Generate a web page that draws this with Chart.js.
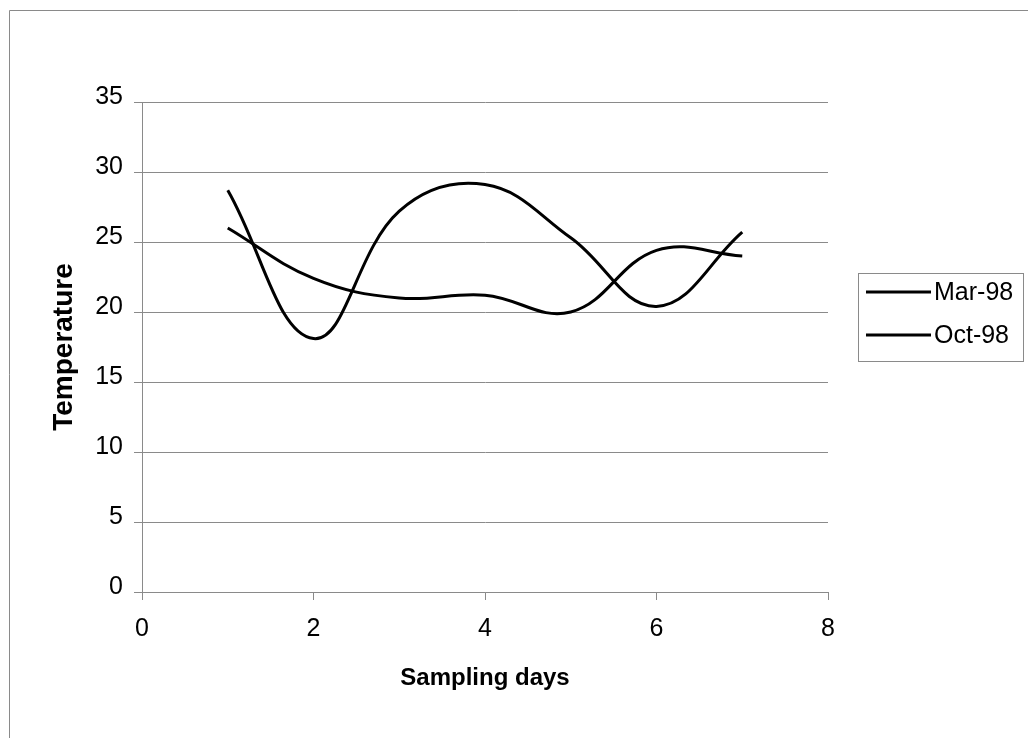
<!DOCTYPE html>
<html>
<head>
<meta charset="utf-8">
<title>Temperature</title>
<script src="https://cdn.jsdelivr.net/npm/chart.js@4"></script>
<style>
  html, body { margin: 0; padding: 0; background: #fff; }
</style>
</head>
<body>
<canvas id="grafico" width="1028" height="738"></canvas>
<script>
// Datos
const diasMuestreo = [1, 2, 3, 4, 5, 6, 7];
const temperaturaMar98 = [28.7, 18.1, 27.2, 29.1, 25.3, 20.4, 25.7];
const temperaturaOct98 = [26.0, 22.4, 21.0, 21.2, 20.0, 24.4, 24.0];
const etiquetasSeries = ['Mar-98', 'Oct-98'];
const ticksY = [0, 5, 10, 15, 20, 25, 30, 35];
const ticksX = [0, 2, 4, 6, 8];

const fuente = "'Liberation Sans', Arial, sans-serif";
const gris = '#8a8a8a';

function puntos(valores) {
    return diasMuestreo.map((d, i) => ({ x: d, y: valores[i] }));
}

// Marco exterior y leyenda con borde
const marcoYLeyenda = {
    id: 'marcoYLeyenda',
    afterDraw(chart) {
        const ctx = chart.ctx;
        ctx.save();
        ctx.strokeStyle = gris;
        ctx.lineWidth = 1;
        ctx.beginPath();
        ctx.moveTo(9.5, 738);
        ctx.lineTo(9.5, 10.5);
        ctx.lineTo(1028, 10.5);
        ctx.stroke();

        // caja de leyenda
        ctx.strokeRect(858.5, 273.5, 165, 88);
        ctx.font = '25px ' + fuente;
        ctx.textBaseline = 'middle';
        ctx.fillStyle = '#000';
        const filas = [292, 335];
        etiquetasSeries.forEach((txt, i) => {
            ctx.strokeStyle = '#000';
            ctx.lineWidth = 3;
            ctx.beginPath();
            ctx.moveTo(866, filas[i]);
            ctx.lineTo(931, filas[i]);
            ctx.stroke();
            ctx.fillText(txt, 934, filas[i] + 1);
        });
        ctx.restore();
    }
};

const ctx = document.getElementById('grafico').getContext('2d');
const grafico = new Chart(ctx, {
    type: 'line',
    data: {
        datasets: [{
            label: etiquetasSeries[0],
            data: puntos(temperaturaMar98),
            borderColor: '#000',
            borderWidth: 3,
            pointRadius: 0,
            tension: 0.4,
            fill: false
        }, {
            label: etiquetasSeries[1],
            data: puntos(temperaturaOct98),
            borderColor: '#000',
            borderWidth: 3,
            pointRadius: 0,
            tension: 0.4,
            fill: false
        }]
    },
    options: {
        responsive: false,
        animation: false,
        layout: { padding: { left: 0, top: 102, right: 200, bottom: 0 } },
        plugins: {
            legend: { display: false },
            tooltip: { enabled: false }
        },
        scales: {
            x: {
                type: 'linear',
                min: 0,
                max: 8,
                afterFit: s => { s.height = 146; },
                afterBuildTicks: s => { s.ticks = ticksX.map(v => ({ value: v })); },
                border: { color: gris, width: 1 },
                grid: { drawOnChartArea: false, drawTicks: true, tickLength: 8, color: gris },
                ticks: { color: '#000', font: { family: fuente, size: 25 }, padding: 14, maxRotation: 0 },
                title: {
                    display: true,
                    text: 'Sampling days',
                    color: '#000',
                    font: { family: fuente, size: 24, weight: 'bold' },
                    padding: { top: 0, bottom: 45 }
                }
            },
            y: {
                min: 0,
                max: 35,
                afterFit: s => { s.width = 142; },
                afterBuildTicks: s => { s.ticks = ticksY.map(v => ({ value: v })); },
                border: { color: gris, width: 1 },
                grid: { color: gris, lineWidth: 1, tickLength: 8 },
                ticks: { color: '#000', font: { family: fuente, size: 25 }, padding: 11, labelOffset: -5 },
                title: {
                    display: true,
                    text: 'Temperature',
                    color: '#000',
                    font: { family: fuente, size: 28, weight: 'bold' },
                    padding: { top: 47, bottom: 0 }
                }
            }
        }
    },
    plugins: [marcoYLeyenda]
});
</script>
</body>
</html>
